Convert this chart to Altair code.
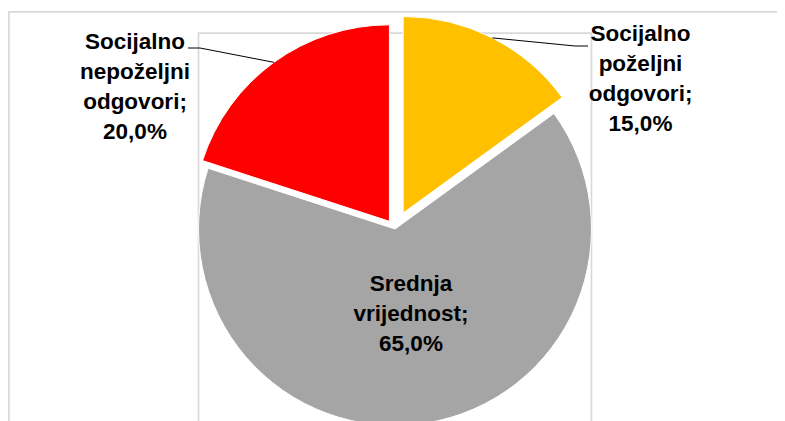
import math
import altair as alt
import pandas as pd

# ---- data ----
categories = ["Socijalno poželjni odgovori", "Srednja vrijednost", "Socijalno nepoželjni odgovori"]
values = [15.0, 65.0, 20.0]

# ---- style ----
colors = ["#FFC000", "#A5A5A5", "#FF0000"]
explode = [18, 0, 9.5]                 # slice explosion (px)
CX, CY, R = 387, 221, 196.5            # pie centre / radius in view px
FONT = "Liberation Sans, Arial, sans-serif"
label_pos = {                           # manual label anchors (x centre, first baseline)
    categories[0]: (632.5, 33),
    categories[1]: (403, 283),
    categories[2]: (127, 40.5),
}
leader = {                              # elbow and end of leader lines
    categories[0]: (567, 38, 580),
    categories[2]: (192, 40, 180),
}

def make_label(name, v):
    return "\n".join(name.split(" ")) + ";\n" + f"{v:.1f}".replace(".", ",") + "%"

df = pd.DataFrame({
    "category": categories,
    "value": values,
    "order": list(range(len(categories))),
    "explode": explode,
    "label": [make_label(c, v) for c, v in zip(categories, values)],
    "lx": [label_pos[c][0] for c in categories],
    "ly": [label_pos[c][1] for c in categories],
})

base = (
    alt.Chart(df)
    .transform_joinaggregate(total="sum(value)")
    .transform_window(cum="sum(value)", sort=[alt.SortField("order")], frame=[None, 0])
    .transform_calculate(
        t1="datum.cum / datum.total",
        t0="(datum.cum - datum.value) / datum.total",
    )
    .transform_calculate(mid="PI * (datum.t0 + datum.t1)")
    .transform_calculate(
        cx=f"{CX} + datum.explode * sin(datum.mid)",
        cy=f"{CY} - datum.explode * cos(datum.mid)",
    )
    .transform_calculate(
        ax=f"datum.cx + {R} * sin(datum.mid)",
        ay=f"datum.cy - {R} * cos(datum.mid)",
    )
)

frames_df = pd.DataFrame({"fx": [0.9, 190.5], "fy": [3.8, 25.2], "fx2": [2000, 583.5], "fy2": [2000, 2000]})
frames = alt.Chart(frames_df).mark_rect(fill=None, stroke="#D9D9D9", strokeWidth=1.7).encode(
    x=alt.X("fx:Q", scale=None, axis=None),
    y=alt.Y("fy:Q", scale=None, axis=None),
    x2="fx2:Q",
    y2="fy2:Q",
)

arcs = base.mark_arc(radius=R, stroke="white", strokeWidth=1).encode(
    x=alt.X("cx:Q", scale=None, axis=None),
    y=alt.Y("cy:Q", scale=None, axis=None),
    theta=alt.Theta("t0:Q", scale=alt.Scale(domain=[0, 1], range=[0, 2 * math.pi]), stack=None),
    theta2="t1:Q",
    color=alt.Color("category:N", scale=alt.Scale(domain=categories, range=colors), legend=None),
)

lead_df = pd.DataFrame({
    "category": list(leader.keys()),
    "ex": [leader[c][0] for c in leader],
    "ey": [leader[c][1] for c in leader],
    "endx": [leader[c][2] for c in leader],
})
lead_base = base.transform_lookup(
    lookup="category", from_=alt.LookupData(lead_df, "category", ["ex", "ey", "endx"])
).transform_filter("isValid(datum.ex)")

lead1 = lead_base.mark_rule(color="black", strokeWidth=1).encode(
    x=alt.X("ax:Q", scale=None, axis=None),
    y=alt.Y("ay:Q", scale=None, axis=None),
    x2="ex:Q",
    y2="ey:Q",
)
lead2 = lead_base.mark_rule(color="black", strokeWidth=1).encode(
    x=alt.X("ex:Q", scale=None, axis=None),
    y=alt.Y("ey:Q", scale=None, axis=None),
    x2="endx:Q",
    y2="ey:Q",
)

labels = base.mark_text(
    font=FONT, fontSize=22.5, fontWeight="bold", lineBreak="\n", lineHeight=30,
    align="center", baseline="alphabetic", color="black",
).encode(
    x=alt.X("lx:Q", scale=None, axis=None),
    y=alt.Y("ly:Q", scale=None, axis=None),
    text="label:N",
)

chart = (
    alt.layer(frames, arcs, lead1, lead2, labels)
    .properties(width=769, height=413, padding=0, autosize=alt.AutoSizeParams(type="none"))
    .configure_view(stroke=None)
)

chart.save("out.html", embed_options={"renderer": "svg", "actions": False})
